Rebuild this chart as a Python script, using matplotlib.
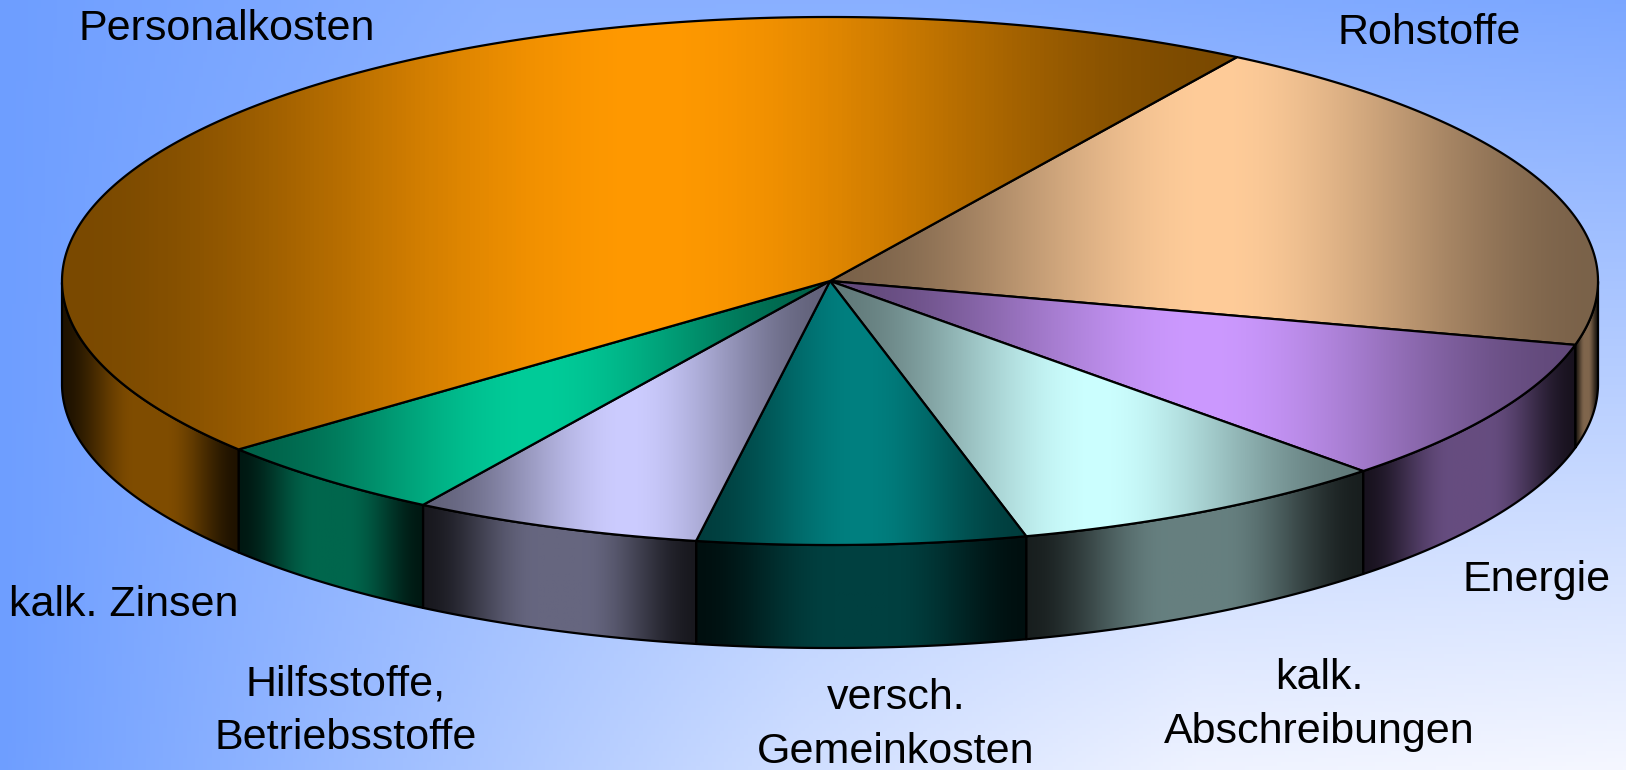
import numpy as np
import matplotlib
matplotlib.use('Agg')
import matplotlib.pyplot as plt
from matplotlib.patches import Polygon
from matplotlib.colors import to_rgb

# share of each cost type in percent, clockwise from the Personalkosten/Rohstoffe edge
categories = ['Rohstoffe', 'Energie', 'kalk. Abschreibungen', 'versch. Gemeinkosten',
              'Hilfsstoffe, Betriebsstoffe', 'kalk. Zinsen', 'Personalkosten']
shares = [20, 8.9, 8.1, 6.9, 6.1, 5.1, 44.9]
colors = ['#FFCC99', '#CC99FF', '#CCFFFF', '#008080', '#CCCCFF', '#00CC99', '#FF9900']

label_text = ['Rohstoffe', 'Energie', 'kalk.\nAbschreibungen', 'versch.\nGemeinkosten',
              'Hilfsstoffe,\nBetriebsstoffe', 'kalk. Zinsen', 'Personalkosten']
label_x = [1429, 1537, 1319, 896, 346, 124, 227]
label_y = [33, 580, 705, 725, 711, 605, 29]

W, H = 1626, 770
cx, cy, a, b, depth = 830, 281, 768, 264, 103
start_angle = 58.0

plt.rcParams['font.family'] = ['Liberation Sans', 'DejaVu Sans']

fig = plt.figure(figsize=(W / 100, H / 100), dpi=100)
ax = fig.add_axes([0, 0, 1, 1])
ax.set_xlim(0, W)
ax.set_ylim(H, 0)
ax.axis('off')


def shade(col, x0, x1, low, high, widen):
    # horizontal ramp, dark at both ends and full in the middle
    xs = np.linspace(x0, x1, 256)
    t = 1 - np.abs(xs - (x0 + x1) / 2) / ((x1 - x0) / 2)
    t = np.clip(t * widen, 0, 1)
    t = t * t * (3 - 2 * t)
    f = low + (high - low) * t
    return (np.array(to_rgb(col))[None, :] * f[:, None])[None, :, :]


def ramp_patch(pts, col, low, high, widen, zorder):
    x0, x1 = pts[:, 0].min(), pts[:, 0].max()
    y0, y1 = pts[:, 1].min(), pts[:, 1].max()
    im = ax.imshow(shade(col, x0, x1, low, high, widen), extent=[x0, x1, y1, y0],
                   aspect='auto', zorder=zorder)
    poly = Polygon(pts, closed=True, fc='none', ec='black', lw=1.6, joinstyle='round',
                   zorder=zorder + 0.1)
    ax.add_patch(poly)
    im.set_clip_path(poly)


# background, lighter towards the lower right
xs = np.linspace(0, W, 400)
top_t = np.interp(xs, [0, 500, 900, 1300, 1626], [0, 0.2, 0.2, 0.14, 0.1])
bottom_t = np.interp(xs, [0, 400, 800, 1200, 1626], [0, 0.37, 0.72, 0.95, 1.0])
v = np.linspace(0, 1, 200)[:, None]
t = top_t[None, :] + (bottom_t - top_t)[None, :] * v
left = np.array([0x6E, 0x9E, 0xFF]) / 255
right = np.array([0xF5, 0xF7, 0xFF]) / 255
bg = left + (right - left) * t[:, :, None]
ax.imshow(bg, extent=[0, W, H, 0], aspect='auto', zorder=0)

edges = start_angle - np.cumsum([0] + shares) * 3.6

# side walls only where the rim faces the viewer
z = 1
for i, col in enumerate(colors):
    th = np.linspace(edges[i], edges[i + 1], 400)
    th = th[np.sin(np.radians(th)) < 0.0]
    if len(th) < 2:
        continue
    rx = cx + a * np.cos(np.radians(th))
    ry = cy - b * np.sin(np.radians(th))
    wall = np.vstack([np.c_[rx, ry], np.c_[rx, ry + depth][::-1]])
    ramp_patch(wall, col, 0.12, 0.5, 1.2, z)
    z += 1

# top faces
for i, col in enumerate(colors):
    th = np.linspace(edges[i], edges[i + 1], 300)
    rx = cx + a * np.cos(np.radians(th))
    ry = cy - b * np.sin(np.radians(th))
    top = np.vstack([[cx, cy], np.c_[rx, ry]])
    ramp_patch(top, col, 0.48, 1.0, 1.0, 20 + i)

for s, x, y in zip(label_text, label_x, label_y):
    ax.text(x, y, s, ha='center', va='center', fontsize=31, color='black', zorder=40,
            linespacing=1.45)

fig.savefig('out.png', dpi=100)
